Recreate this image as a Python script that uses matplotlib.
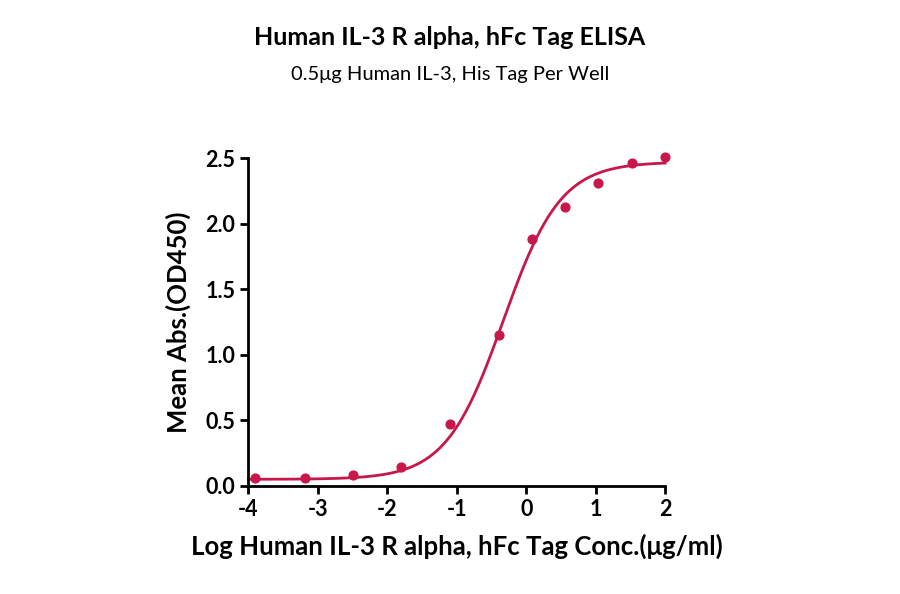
import numpy as np
import matplotlib.pyplot as plt

plt.rcParams['font.family'] = ['Lato', 'DejaVu Sans']
plt.rcParams['axes.unicode_minus'] = False

# data
log_conc = [-3.9, -3.19, -2.49, -1.8, -1.09, -0.39, 0.09, 0.56, 1.04, 1.52, 2.0]
od450 = [0.06, 0.06, 0.08, 0.145, 0.47, 1.15, 1.885, 2.13, 2.31, 2.46, 2.51]

# 4PL fit parameters (estimated)
bottom, top, log_ec50, hill = 0.05, 2.47, -0.33, 1.05

color = "#C8174A"

fig = plt.figure(figsize=(9, 5.94), dpi=100)
ax = fig.add_axes([0.276, 0.182, 0.463, 0.552])

xs = np.linspace(-4, 2, 300)
ys = bottom + (top - bottom) / (1 + 10 ** ((log_ec50 - xs) * hill))
ax.plot(xs, ys, color=color, linewidth=2, clip_on=False)
ax.scatter(log_conc, od450, color=color, s=40, zorder=3, clip_on=False)

ax.set_xlim(-4, 2)
ax.set_ylim(0, 2.5)
ax.set_xticks(range(-4, 3))
ax.set_yticks([0, 0.5, 1.0, 1.5, 2.0, 2.5])
ax.set_yticklabels(["0.0", "0.5", "1.0", "1.5", "2.0", "2.5"])
for s in ["top", "right"]:
    ax.spines[s].set_visible(False)
for s in ["left", "bottom"]:
    ax.spines[s].set_linewidth(2)
ax.tick_params(width=2, length=6, labelsize=15.5)
for lab in ax.get_xticklabels() + ax.get_yticklabels():
    lab.set_fontweight("bold")

ax.set_xlabel("Log Human IL-3 R alpha, hFc Tag Conc.(\u03bcg/ml)", fontsize=18.5, fontweight="bold", labelpad=10)
ax.set_ylabel("Mean Abs.(OD450)", fontsize=18.5, fontweight="bold", labelpad=10)

fig.text(0.5, 0.925, "Human IL-3 R alpha, hFc Tag ELISA", ha="center", fontsize=18, fontweight="bold")
fig.text(0.5, 0.865, "0.5\u03bcg Human IL-3, His Tag Per Well", ha="center", fontsize=14.5)

fig.savefig("out.png")
